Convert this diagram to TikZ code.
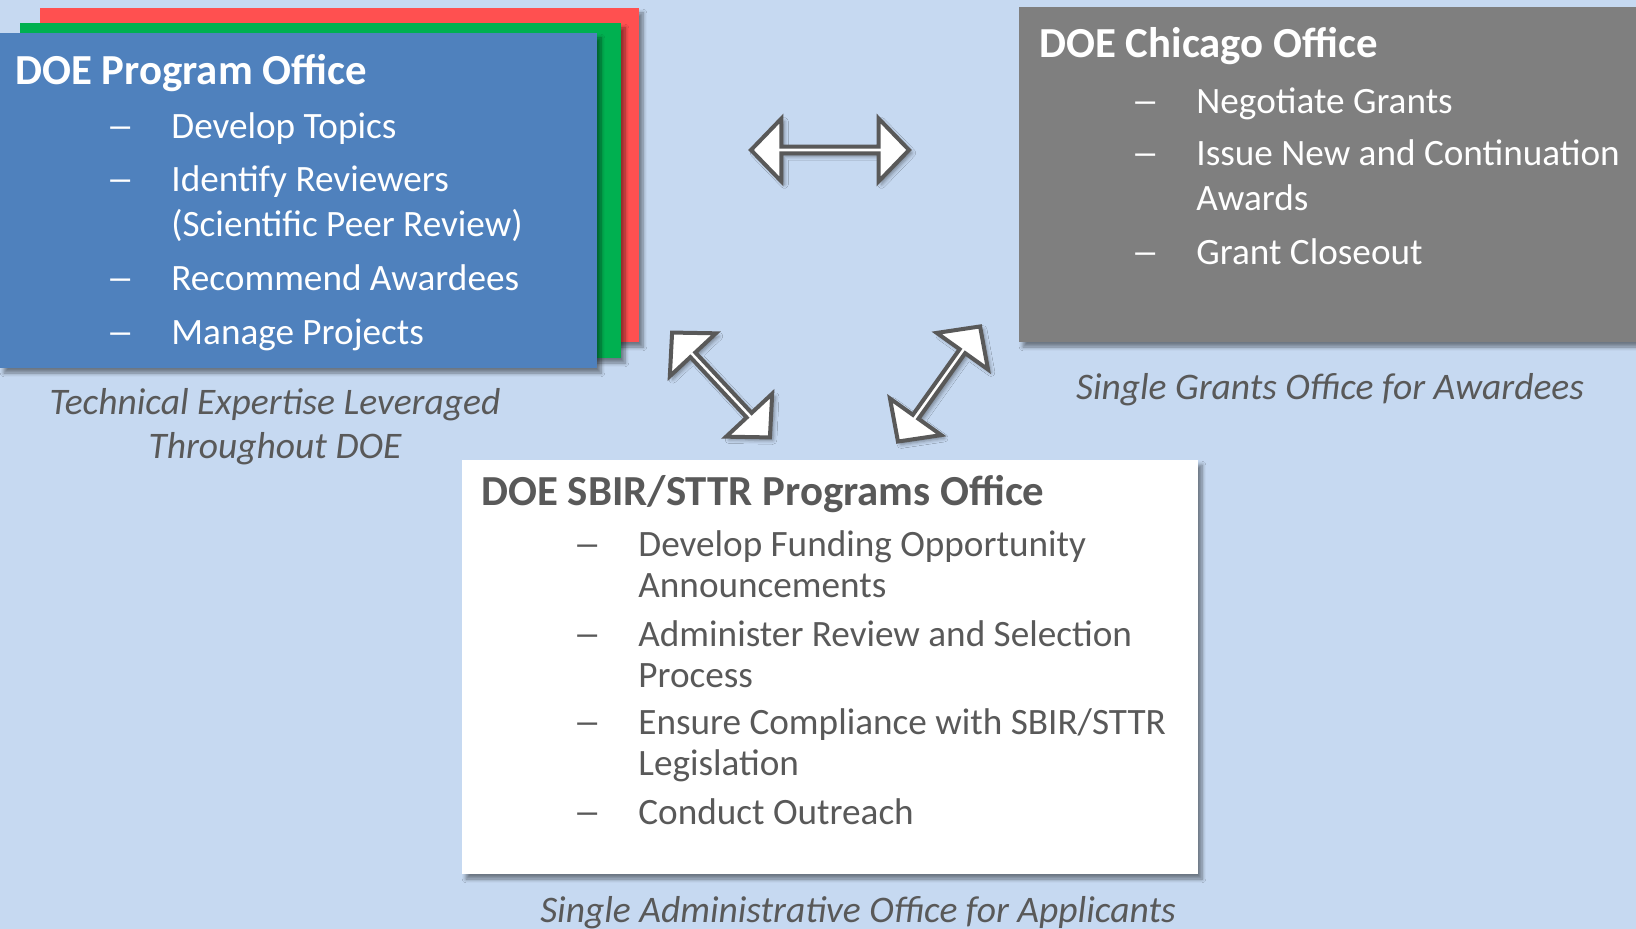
\documentclass[tikz,border=0pt]{standalone}
\usepackage{graphicx}
\usepackage{fontspec}
\setmainfont{Carlito}
\usetikzlibrary{shapes.arrows,shadows.blur}
\definecolor{slidebg}{HTML}{C6D9F1}
\definecolor{progblue}{HTML}{4F81BD}
\definecolor{progred}{HTML}{FF5050}
\definecolor{proggreen}{HTML}{00B050}
\definecolor{chigray}{HTML}{7F7F7F}
\definecolor{darktext}{HTML}{595959}
\newcommand{\dashitem}{\llap{\makebox[32.5pt][l]{\scalebox{1.5}[1]{–}}}}
\tikzset{
  officebox/.style={rectangle,draw=none,inner sep=0pt,
    blur shadow={shadow xshift=2pt,shadow yshift=-2.5pt,shadow blur steps=6,shadow opacity=45}},
  boxtitle/.style={anchor=base west,inner sep=0pt,font=\bfseries\fontsize{21.4pt}{25pt}\selectfont},
  boxitem/.style={anchor=base west,inner sep=0pt,align=left,font=\fontsize{18.6pt}{#1}\selectfont},
  boxitem/.default=22.5pt,
  officenote/.style={inner sep=0pt,align=center,text=darktext,font=\itshape\fontsize{18.75pt}{22pt}\selectfont},
  linkarrow/.style={double arrow,draw=darktext,fill=white,line width=2pt,inner sep=0pt,
    minimum width=31.5pt,double arrow head extend=8.25pt,double arrow tip angle=92,
    blur shadow={shadow xshift=1.5pt,shadow yshift=-1.5pt,shadow opacity=40}}
}
\begin{document}
\begin{tikzpicture}[x=0.5pt,y=-0.5pt]
%% slide
\useasboundingbox (0,0) rectangle (1636,929);
\fill[slidebg] (0,0) rectangle (1636,929);
%% program office (stacked sheets)
\node (redsheet) at (339.5,175) [officebox,fill=progred,minimum width=299.5pt,minimum height=167pt] {};
\node (greensheet) at (320.5,190.5) [officebox,fill=proggreen,minimum width=300.5pt,minimum height=167.5pt] {};
\node (progoffice) at (298.5,200.5) [officebox,fill=progblue,minimum width=298.5pt,minimum height=167.5pt] {};
\node (progtitle) at (15,85) [boxtitle,text=white] {DOE Program Office};
\node (prog1) at (171,139) [boxitem,text=white] {\dashitem Develop Topics};
\node (prog2) at (171,237) [boxitem,text=white] {\dashitem Identify Reviewers\\(Scientific Peer Review)};
\node (prog3) at (171,291) [boxitem,text=white] {\dashitem Recommend Awardees};
\node (prog4) at (171,345) [boxitem,text=white] {\dashitem Manage Projects};
\node (prognote) at (275,427) [officenote] {Technical Expertise Leveraged\\Throughout DOE};
%% chicago office
\node (chicago) at (1339,174.5) [officebox,fill=chigray,minimum width=320pt,minimum height=167.5pt] {};
\node (chititle) at (1039,58) [boxtitle,text=white] {DOE Chicago Office};
\node (chi1) at (1196,114) [boxitem,text=white] {\dashitem Negotiate Grants};
\node (chi2) at (1196,211) [boxitem,text=white] {\dashitem Issue New and Continuation\\Awards};
\node (chi3) at (1196,265) [boxitem,text=white] {\dashitem Grant Closeout};
\node (chinote) at (1330,390) [officenote] {Single Grants Office for Awardees};
%% sbir/sttr office
\node (sbir) at (830,667) [officebox,fill=white,minimum width=368pt,minimum height=207pt] {};
\node (sbirtitle) at (481,506) [boxtitle,text=darktext] {DOE SBIR/STTR Programs Office};
\node (sbir1) at (638,597) [boxitem=20.5pt,text=darktext] {\dashitem Develop Funding Opportunity\\Announcements};
\node (sbir2) at (638,687) [boxitem=20.5pt,text=darktext] {\dashitem Administer Review and Selection\\Process};
\node (sbir3) at (638,775) [boxitem=20.5pt,text=darktext] {\dashitem Ensure Compliance with SBIR/STTR\\Legislation};
\node (sbir4) at (638,824) [boxitem=20.5pt,text=darktext] {\dashitem Conduct Outreach};
\node (sbirnote) at (858,913) [officenote] {Single Administrative Office for Applicants};
%% block arrows
\node (progchi) at (830,150) [linkarrow,minimum height=79pt] {};
\node (progsbir) at (721,385) [linkarrow,minimum height=71.7pt,rotate=-47] {};
\node (chisbir) at (939,384) [linkarrow,minimum height=70.7pt,rotate=54.5] {};
%
\end{tikzpicture}
\end{document}
